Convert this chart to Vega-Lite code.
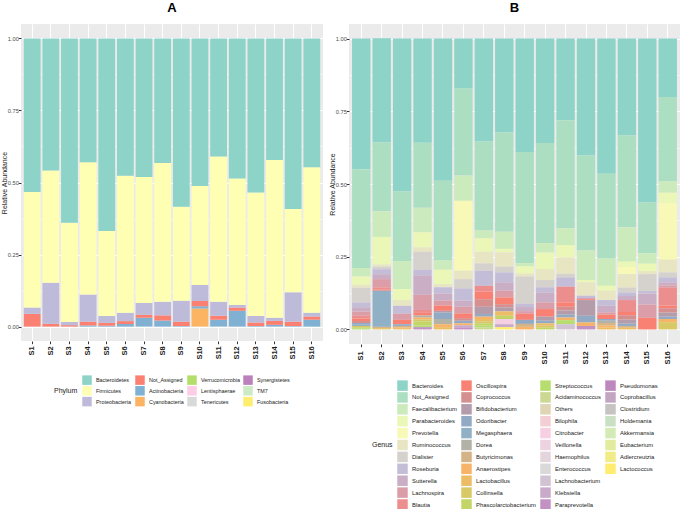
{
"$schema": "https://vega.github.io/schema/vega-lite/v6.json",
"padding": {"left": 0, "top": 2, "right": 0, "bottom": 0},
"spacing": 5,
"datasets": {
"pk": [{"p":"Bacteroidetes","k":0},{"p":"Firmicutes","k":1},{"p":"Proteobacteria","k":2},{"p":"Not_Assigned","k":3},{"p":"Actinobacteria","k":4},{"p":"Cyanobacteria","k":5},{"p":"Verrucomicrobia","k":6},{"p":"Lentisphaerae","k":7},{"p":"Tenericutes","k":8},{"p":"Synergistetes","k":9},{"p":"TM7","k":10},{"p":"Fusobacteria","k":11}],
"phy": [
{"s":"S1","p":"Not_Assigned","v":0.044},{"s":"S1","p":"Proteobacteria","v":0.022},{"s":"S1","p":"Firmicutes","v":0.401},{"s":"S1","p":"Bacteroidetes","v":0.533},
{"s":"S2","p":"Not_Assigned","v":0.010},{"s":"S2","p":"Proteobacteria","v":0.142},{"s":"S2","p":"Firmicutes","v":0.390},{"s":"S2","p":"Bacteroidetes","v":0.458},
{"s":"S3","p":"Not_Assigned","v":0.005},{"s":"S3","p":"Proteobacteria","v":0.011},{"s":"S3","p":"Firmicutes","v":0.344},{"s":"S3","p":"Bacteroidetes","v":0.640},
{"s":"S4","p":"Actinobacteria","v":0.004},{"s":"S4","p":"Not_Assigned","v":0.013},{"s":"S4","p":"Proteobacteria","v":0.094},{"s":"S4","p":"Firmicutes","v":0.459},{"s":"S4","p":"Bacteroidetes","v":0.430},
{"s":"S5","p":"Actinobacteria","v":0.003},{"s":"S5","p":"Not_Assigned","v":0.010},{"s":"S5","p":"Proteobacteria","v":0.024},{"s":"S5","p":"Firmicutes","v":0.295},{"s":"S5","p":"Bacteroidetes","v":0.668},
{"s":"S6","p":"Actinobacteria","v":0.009},{"s":"S6","p":"Not_Assigned","v":0.010},{"s":"S6","p":"Proteobacteria","v":0.029},{"s":"S6","p":"Firmicutes","v":0.475},{"s":"S6","p":"Bacteroidetes","v":0.477},
{"s":"S7","p":"Actinobacteria","v":0.031},{"s":"S7","p":"Not_Assigned","v":0.010},{"s":"S7","p":"Proteobacteria","v":0.041},{"s":"S7","p":"Firmicutes","v":0.437},{"s":"S7","p":"Bacteroidetes","v":0.481},
{"s":"S8","p":"Actinobacteria","v":0.021},{"s":"S8","p":"Not_Assigned","v":0.018},{"s":"S8","p":"Proteobacteria","v":0.047},{"s":"S8","p":"Firmicutes","v":0.482},{"s":"S8","p":"Bacteroidetes","v":0.432},
{"s":"S9","p":"Actinobacteria","v":0.002},{"s":"S9","p":"Not_Assigned","v":0.015},{"s":"S9","p":"Proteobacteria","v":0.073},{"s":"S9","p":"Firmicutes","v":0.326},{"s":"S9","p":"Bacteroidetes","v":0.584},
{"s":"S10","p":"Cyanobacteria","v":0.063},{"s":"S10","p":"Actinobacteria","v":0.008},{"s":"S10","p":"Not_Assigned","v":0.018},{"s":"S10","p":"Proteobacteria","v":0.055},{"s":"S10","p":"Firmicutes","v":0.344},{"s":"S10","p":"Bacteroidetes","v":0.512},
{"s":"S11","p":"Actinobacteria","v":0.024},{"s":"S11","p":"Not_Assigned","v":0.014},{"s":"S11","p":"Proteobacteria","v":0.048},{"s":"S11","p":"Firmicutes","v":0.504},{"s":"S11","p":"Bacteroidetes","v":0.410},
{"s":"S12","p":"Actinobacteria","v":0.055},{"s":"S12","p":"Not_Assigned","v":0.011},{"s":"S12","p":"Proteobacteria","v":0.009},{"s":"S12","p":"Firmicutes","v":0.439},{"s":"S12","p":"Bacteroidetes","v":0.486},
{"s":"S13","p":"Actinobacteria","v":0.002},{"s":"S13","p":"Not_Assigned","v":0.012},{"s":"S13","p":"Proteobacteria","v":0.023},{"s":"S13","p":"Firmicutes","v":0.428},{"s":"S13","p":"Bacteroidetes","v":0.535},
{"s":"S14","p":"Actinobacteria","v":0.006},{"s":"S14","p":"Not_Assigned","v":0.014},{"s":"S14","p":"Proteobacteria","v":0.011},{"s":"S14","p":"Firmicutes","v":0.547},{"s":"S14","p":"Bacteroidetes","v":0.422},
{"s":"S15","p":"Actinobacteria","v":0.002},{"s":"S15","p":"Not_Assigned","v":0.015},{"s":"S15","p":"Proteobacteria","v":0.102},{"s":"S15","p":"Firmicutes","v":0.289},{"s":"S15","p":"Bacteroidetes","v":0.592},
{"s":"S16","p":"Actinobacteria","v":0.024},{"s":"S16","p":"Not_Assigned","v":0.011},{"s":"S16","p":"Proteobacteria","v":0.013},{"s":"S16","p":"Firmicutes","v":0.505},{"s":"S16","p":"Bacteroidetes","v":0.447}
],
"gk": [{"g":"Bacteroides","k":0},{"g":"Not_Assigned","k":1},{"g":"Faecalibacterium","k":2},{"g":"Parabacteroides","k":3},{"g":"Prevotella","k":4},{"g":"Ruminococcus","k":5},{"g":"Dialister","k":6},{"g":"Roseburia","k":7},{"g":"Sutterella","k":8},{"g":"Lachnospira","k":9},{"g":"Blautia","k":10},{"g":"Oscillospira","k":11},{"g":"Coprococcus","k":12},{"g":"Bifidobacterium","k":13},{"g":"Odoribacter","k":14},{"g":"Megasphaera","k":15},{"g":"Dorea","k":16},{"g":"Butyricimonas","k":17},{"g":"Anaerostipes","k":18},{"g":"Lactobacillus","k":19},{"g":"Collinsella","k":20},{"g":"Phascolarctobacterium","k":21},{"g":"Streptococcus","k":22},{"g":"Acidaminococcus","k":23},{"g":"Others","k":24},{"g":"Bilophila","k":25},{"g":"Citrobacter","k":26},{"g":"Veillonella","k":27},{"g":"Haemophilus","k":28},{"g":"Enterococcus","k":29},{"g":"Lachnobacterium","k":30},{"g":"Klebsiella","k":31},{"g":"Paraprevotella","k":32},{"g":"Pseudomonas","k":33},{"g":"Coprobacillus","k":34},{"g":"Clostridium","k":35},{"g":"Holdemania","k":36},{"g":"Akkermansia","k":37},{"g":"Eubacterium","k":38},{"g":"Adlercreutzia","k":39},{"g":"Lactococcus","k":40}],
"gen": [
{"s":"S1","g":"Bacteroides","v":0.449},{"s":"S1","g":"Not_Assigned","v":0.340},{"s":"S1","g":"Faecalibacterium","v":0.029},{"s":"S1","g":"Parabacteroides","v":0.028},{"s":"S1","g":"Ruminococcus","v":0.011},{"s":"S1","g":"Dialister","v":0.050},{"s":"S1","g":"Roseburia","v":0.017},{"s":"S1","g":"Sutterella","v":0.014},{"s":"S1","g":"Lachnospira","v":0.015},{"s":"S1","g":"Blautia","v":0.009},{"s":"S1","g":"Oscillospira","v":0.009},{"s":"S1","g":"Coprococcus","v":0.007},{"s":"S1","g":"Odoribacter","v":0.006},{"s":"S1","g":"Megasphaera","v":0.004},{"s":"S1","g":"Collinsella","v":0.004},{"s":"S1","g":"Phascolarctobacterium","v":0.004},{"s":"S1","g":"Streptococcus","v":0.004},
{"s":"S2","g":"Bacteroides","v":0.358},{"s":"S2","g":"Not_Assigned","v":0.237},{"s":"S2","g":"Faecalibacterium","v":0.088},{"s":"S2","g":"Parabacteroides","v":0.095},{"s":"S2","g":"Ruminococcus","v":0.007},{"s":"S2","g":"Dialister","v":0.009},{"s":"S2","g":"Roseburia","v":0.017},{"s":"S2","g":"Sutterella","v":0.017},{"s":"S2","g":"Lachnospira","v":0.028},{"s":"S2","g":"Blautia","v":0.008},{"s":"S2","g":"Oscillospira","v":0.004},{"s":"S2","g":"Megasphaera","v":0.124},{"s":"S2","g":"Butyricimonas","v":0.004},{"s":"S2","g":"Lactobacillus","v":0.003},{"s":"S2","g":"Collinsella","v":0.002},
{"s":"S3","g":"Bacteroides","v":0.526},{"s":"S3","g":"Not_Assigned","v":0.239},{"s":"S3","g":"Faecalibacterium","v":0.096},{"s":"S3","g":"Parabacteroides","v":0.038},{"s":"S3","g":"Ruminococcus","v":0.020},{"s":"S3","g":"Roseburia","v":0.027},{"s":"S3","g":"Lachnospira","v":0.021},{"s":"S3","g":"Oscillospira","v":0.015},{"s":"S3","g":"Odoribacter","v":0.006},{"s":"S3","g":"Butyricimonas","v":0.005},{"s":"S3","g":"Anaerostipes","v":0.005},{"s":"S3","g":"Collinsella","v":0.002},
{"s":"S4","g":"Bacteroides","v":0.358},{"s":"S4","g":"Not_Assigned","v":0.224},{"s":"S4","g":"Faecalibacterium","v":0.084},{"s":"S4","g":"Parabacteroides","v":0.052},{"s":"S4","g":"Ruminococcus","v":0.015},{"s":"S4","g":"Dialister","v":0.062},{"s":"S4","g":"Roseburia","v":0.019},{"s":"S4","g":"Sutterella","v":0.067},{"s":"S4","g":"Lachnospira","v":0.052},{"s":"S4","g":"Blautia","v":0.010},{"s":"S4","g":"Oscillospira","v":0.009},{"s":"S4","g":"Dorea","v":0.007},{"s":"S4","g":"Anaerostipes","v":0.007},{"s":"S4","g":"Collinsella","v":0.006},{"s":"S4","g":"Phascolarctobacterium","v":0.014},{"s":"S4","g":"Streptococcus","v":0.006},{"s":"S4","g":"Paraprevotella","v":0.008},
{"s":"S5","g":"Bacteroides","v":0.489},{"s":"S5","g":"Not_Assigned","v":0.274},{"s":"S5","g":"Faecalibacterium","v":0.032},{"s":"S5","g":"Parabacteroides","v":0.049},{"s":"S5","g":"Ruminococcus","v":0.011},{"s":"S5","g":"Roseburia","v":0.021},{"s":"S5","g":"Sutterella","v":0.025},{"s":"S5","g":"Lachnospira","v":0.017},{"s":"S5","g":"Oscillospira","v":0.018},{"s":"S5","g":"Bifidobacterium","v":0.006},{"s":"S5","g":"Odoribacter","v":0.022},{"s":"S5","g":"Dorea","v":0.018},{"s":"S5","g":"Anaerostipes","v":0.010},{"s":"S5","g":"Lactobacillus","v":0.008},
{"s":"S6","g":"Bacteroides","v":0.172},{"s":"S6","g":"Not_Assigned","v":0.299},{"s":"S6","g":"Faecalibacterium","v":0.087},{"s":"S6","g":"Prevotella","v":0.240},{"s":"S6","g":"Ruminococcus","v":0.029},{"s":"S6","g":"Dialister","v":0.032},{"s":"S6","g":"Roseburia","v":0.042},{"s":"S6","g":"Sutterella","v":0.021},{"s":"S6","g":"Lachnospira","v":0.023},{"s":"S6","g":"Oscillospira","v":0.016},{"s":"S6","g":"Coprococcus","v":0.009},{"s":"S6","g":"Odoribacter","v":0.009},{"s":"S6","g":"Anaerostipes","v":0.007},{"s":"S6","g":"Klebsiella","v":0.007},{"s":"S6","g":"Paraprevotella","v":0.007},
{"s":"S7","g":"Bacteroides","v":0.354},{"s":"S7","g":"Not_Assigned","v":0.306},{"s":"S7","g":"Faecalibacterium","v":0.027},{"s":"S7","g":"Parabacteroides","v":0.046},{"s":"S7","g":"Ruminococcus","v":0.040},{"s":"S7","g":"Dialister","v":0.025},{"s":"S7","g":"Roseburia","v":0.052},{"s":"S7","g":"Blautia","v":0.020},{"s":"S7","g":"Oscillospira","v":0.026},{"s":"S7","g":"Coprococcus","v":0.026},{"s":"S7","g":"Bifidobacterium","v":0.025},{"s":"S7","g":"Odoribacter","v":0.009},{"s":"S7","g":"Anaerostipes","v":0.008},{"s":"S7","g":"Lactobacillus","v":0.008},{"s":"S7","g":"Collinsella","v":0.007},{"s":"S7","g":"Phascolarctobacterium","v":0.008},{"s":"S7","g":"Streptococcus","v":0.006},{"s":"S7","g":"Acidaminococcus","v":0.007},
{"s":"S8","g":"Bacteroides","v":0.323},{"s":"S8","g":"Not_Assigned","v":0.341},{"s":"S8","g":"Faecalibacterium","v":0.059},{"s":"S8","g":"Parabacteroides","v":0.012},{"s":"S8","g":"Ruminococcus","v":0.049},{"s":"S8","g":"Dialister","v":0.020},{"s":"S8","g":"Roseburia","v":0.034},{"s":"S8","g":"Sutterella","v":0.029},{"s":"S8","g":"Lachnospira","v":0.023},{"s":"S8","g":"Oscillospira","v":0.023},{"s":"S8","g":"Coprococcus","v":0.011},{"s":"S8","g":"Bifidobacterium","v":0.014},{"s":"S8","g":"Lactobacillus","v":0.015},{"s":"S8","g":"Phascolarctobacterium","v":0.011},{"s":"S8","g":"Citrobacter","v":0.018},{"s":"S8","g":"Klebsiella","v":0.010},{"s":"S8","g":"Lactococcus","v":0.008},
{"s":"S9","g":"Bacteroides","v":0.390},{"s":"S9","g":"Not_Assigned","v":0.382},{"s":"S9","g":"Faecalibacterium","v":0.011},{"s":"S9","g":"Parabacteroides","v":0.025},{"s":"S9","g":"Ruminococcus","v":0.010},{"s":"S9","g":"Dialister","v":0.094},{"s":"S9","g":"Roseburia","v":0.011},{"s":"S9","g":"Sutterella","v":0.014},{"s":"S9","g":"Lachnospira","v":0.009},{"s":"S9","g":"Oscillospira","v":0.021},{"s":"S9","g":"Odoribacter","v":0.014},{"s":"S9","g":"Butyricimonas","v":0.010},{"s":"S9","g":"Anaerostipes","v":0.009},
{"s":"S10","g":"Bacteroides","v":0.359},{"s":"S10","g":"Not_Assigned","v":0.344},{"s":"S10","g":"Faecalibacterium","v":0.033},{"s":"S10","g":"Parabacteroides","v":0.057},{"s":"S10","g":"Ruminococcus","v":0.037},{"s":"S10","g":"Dialister","v":0.025},{"s":"S10","g":"Roseburia","v":0.018},{"s":"S10","g":"Sutterella","v":0.034},{"s":"S10","g":"Lachnospira","v":0.023},{"s":"S10","g":"Oscillospira","v":0.026},{"s":"S10","g":"Bifidobacterium","v":0.014},{"s":"S10","g":"Odoribacter","v":0.009},{"s":"S10","g":"Lactobacillus","v":0.008},{"s":"S10","g":"Collinsella","v":0.007},{"s":"S10","g":"Phascolarctobacterium","v":0.006},
{"s":"S11","g":"Bacteroides","v":0.281},{"s":"S11","g":"Not_Assigned","v":0.371},{"s":"S11","g":"Faecalibacterium","v":0.058},{"s":"S11","g":"Parabacteroides","v":0.042},{"s":"S11","g":"Ruminococcus","v":0.057},{"s":"S11","g":"Dialister","v":0.012},{"s":"S11","g":"Roseburia","v":0.032},{"s":"S11","g":"Blautia","v":0.054},{"s":"S11","g":"Oscillospira","v":0.015},{"s":"S11","g":"Coprococcus","v":0.013},{"s":"S11","g":"Bifidobacterium","v":0.014},{"s":"S11","g":"Odoribacter","v":0.010},{"s":"S11","g":"Anaerostipes","v":0.009},{"s":"S11","g":"Streptococcus","v":0.014},{"s":"S11","g":"Lachnobacterium","v":0.018},
{"s":"S12","g":"Bacteroides","v":0.402},{"s":"S12","g":"Not_Assigned","v":0.327},{"s":"S12","g":"Faecalibacterium","v":0.101},{"s":"S12","g":"Parabacteroides","v":0.008},{"s":"S12","g":"Ruminococcus","v":0.046},{"s":"S12","g":"Roseburia","v":0.008},{"s":"S12","g":"Lachnospira","v":0.004},{"s":"S12","g":"Oscillospira","v":0.003},{"s":"S12","g":"Bifidobacterium","v":0.054},{"s":"S12","g":"Odoribacter","v":0.023},{"s":"S12","g":"Anaerostipes","v":0.012},{"s":"S12","g":"Paraprevotella","v":0.012},
{"s":"S13","g":"Bacteroides","v":0.465},{"s":"S13","g":"Not_Assigned","v":0.291},{"s":"S13","g":"Faecalibacterium","v":0.094},{"s":"S13","g":"Parabacteroides","v":0.017},{"s":"S13","g":"Ruminococcus","v":0.032},{"s":"S13","g":"Roseburia","v":0.019},{"s":"S13","g":"Sutterella","v":0.023},{"s":"S13","g":"Lachnospira","v":0.008},{"s":"S13","g":"Oscillospira","v":0.015},{"s":"S13","g":"Odoribacter","v":0.006},{"s":"S13","g":"Dorea","v":0.008},{"s":"S13","g":"Butyricimonas","v":0.008},{"s":"S13","g":"Anaerostipes","v":0.007},{"s":"S13","g":"Lactobacillus","v":0.007},
{"s":"S14","g":"Bacteroides","v":0.333},{"s":"S14","g":"Not_Assigned","v":0.316},{"s":"S14","g":"Faecalibacterium","v":0.118},{"s":"S14","g":"Parabacteroides","v":0.018},{"s":"S14","g":"Prevotella","v":0.025},{"s":"S14","g":"Ruminococcus","v":0.046},{"s":"S14","g":"Dialister","v":0.017},{"s":"S14","g":"Roseburia","v":0.012},{"s":"S14","g":"Sutterella","v":0.014},{"s":"S14","g":"Blautia","v":0.041},{"s":"S14","g":"Oscillospira","v":0.011},{"s":"S14","g":"Coprococcus","v":0.015},{"s":"S14","g":"Bifidobacterium","v":0.014},{"s":"S14","g":"Odoribacter","v":0.008},{"s":"S14","g":"Butyricimonas","v":0.006},{"s":"S14","g":"Lactobacillus","v":0.006},
{"s":"S15","g":"Bacteroides","v":0.564},{"s":"S15","g":"Not_Assigned","v":0.174},{"s":"S15","g":"Faecalibacterium","v":0.036},{"s":"S15","g":"Parabacteroides","v":0.025},{"s":"S15","g":"Ruminococcus","v":0.011},{"s":"S15","g":"Dialister","v":0.058},{"s":"S15","g":"Roseburia","v":0.009},{"s":"S15","g":"Sutterella","v":0.037},{"s":"S15","g":"Lachnospira","v":0.046},{"s":"S15","g":"Oscillospira","v":0.040},
{"s":"S16","g":"Bacteroides","v":0.201},{"s":"S16","g":"Not_Assigned","v":0.290},{"s":"S16","g":"Faecalibacterium","v":0.039},{"s":"S16","g":"Parabacteroides","v":0.036},{"s":"S16","g":"Prevotella","v":0.194},{"s":"S16","g":"Ruminococcus","v":0.044},{"s":"S16","g":"Dialister","v":0.017},{"s":"S16","g":"Roseburia","v":0.017},{"s":"S16","g":"Sutterella","v":0.011},{"s":"S16","g":"Lachnospira","v":0.008},{"s":"S16","g":"Blautia","v":0.061},{"s":"S16","g":"Oscillospira","v":0.009},{"s":"S16","g":"Coprococcus","v":0.015},{"s":"S16","g":"Bifidobacterium","v":0.014},{"s":"S16","g":"Odoribacter","v":0.008},{"s":"S16","g":"Anaerostipes","v":0.011},{"s":"S16","g":"Collinsella","v":0.025}
]
},
"hconcat": [
{
"title": {"text": "A"},
"width": 302, "height": 317,
"data": {"name": "phy"},
"transform": [{"lookup": "p", "from": {"data": {"name": "pk"}, "key": "p", "fields": ["k"]}}],
"mark": {"type": "bar"},
"encoding": {
"x": {"field": "s", "type": "nominal", "sort": ["S1","S2","S3","S4","S5","S6","S7","S8","S9","S10","S11","S12","S13","S14","S15","S16"], "scale": {"paddingInner": 0.1, "paddingOuter": 0.15}, "axis": {"title": null}},
"y": {"field": "v", "type": "quantitative", "stack": "zero", "scale": {"domain": [-0.05, 1.05], "nice": false, "zero": false},
 "axis": {"title": "Relative Abundance", "values": [0,0.125,0.25,0.375,0.5,0.625,0.75,0.875,1], "labelExpr": "(datum.value*8)%2==1 ? '' : format(datum.value,'.2f')", "gridWidth": {"condition": {"test": "(datum.value*8)%2==1", "value": 0.5}, "value": 1}, "tickOpacity": {"condition": {"test": "(datum.value*8)%2==1", "value": 0}, "value": 1}}},
"color": {"field": "p", "type": "nominal",
 "scale": {"domain": ["Bacteroidetes","Firmicutes","Proteobacteria","Not_Assigned","Actinobacteria","Cyanobacteria","Verrucomicrobia","Lentisphaerae","Tenericutes","Synergistetes","TM7","Fusobacteria"],
  "range": ["#8DD3C7","#FFFFB3","#BEBADA","#FB8072","#80B1D3","#FDB462","#B3DE69","#FCCDE5","#D9D9D9","#BC80BD","#CCEBC5","#FFED6F"]},
 "legend": {"title": "Phylum", "values": ["Bacteroidetes","Not_Assigned","Verrucomicrobia","Synergistetes","Firmicutes","Actinobacteria","Lentisphaerae","TM7","Proteobacteria","Cyanobacteria","Tenericutes","Fusobacteria"], "symbolSize": 90, "rowPadding": 0.8, "labelFontSize": 5.4, "columnPadding": 3, "offset": 15}},
"order": {"field": "k", "type": "quantitative", "sort": "descending"}
}
},
{
"title": {"text": "B"},
"width": 331, "height": 320,
"data": {"name": "gen"},
"transform": [{"lookup": "g", "from": {"data": {"name": "gk"}, "key": "g", "fields": ["k"]}}],
"mark": {"type": "bar"},
"encoding": {
"x": {"field": "s", "type": "nominal", "sort": ["S1","S2","S3","S4","S5","S6","S7","S8","S9","S10","S11","S12","S13","S14","S15","S16"], "scale": {"paddingInner": 0.1, "paddingOuter": 0.15}, "axis": {"title": null, "labelPadding": 4}},
"y": {"field": "v", "type": "quantitative", "stack": "zero", "scale": {"domain": [-0.05, 1.05], "nice": false, "zero": false},
 "axis": {"title": "Relative Abundance", "values": [0,0.125,0.25,0.375,0.5,0.625,0.75,0.875,1], "labelExpr": "(datum.value*8)%2==1 ? '' : format(datum.value,'.2f')", "gridWidth": {"condition": {"test": "(datum.value*8)%2==1", "value": 0.5}, "value": 1}, "tickOpacity": {"condition": {"test": "(datum.value*8)%2==1", "value": 0}, "value": 1}}},
"color": {"field": "g", "type": "nominal",
 "scale": {"domain": ["Bacteroides","Not_Assigned","Faecalibacterium","Parabacteroides","Prevotella","Ruminococcus","Dialister","Roseburia","Sutterella","Lachnospira","Blautia","Oscillospira","Coprococcus","Bifidobacterium","Odoribacter","Megasphaera","Dorea","Butyricimonas","Anaerostipes","Lactobacillus","Collinsella","Phascolarctobacterium","Streptococcus","Acidaminococcus","Others","Bilophila","Citrobacter","Veillonella","Haemophilus","Enterococcus","Lachnobacterium","Klebsiella","Paraprevotella","Pseudomonas","Coprobacillus","Clostridium","Holdemania","Akkermansia","Eubacterium","Adlercreutzia","Lactococcus"," ","  ","   "],
  "range": ["#8DD3C7","#ACDFC2","#CCEBBC","#EBF7B6","#F8F8B7","#E7E5C2","#D5D1CC","#C3BDD7","#CAAEC5","#DB9EA9","#EC8E8E","#F88174","#D68F8F","#B49CAA","#92AAC4","#90B1C5","#B2B2A6","#D4B387","#F7B468","#ECBD64","#D8C966","#C4D567","#B7DD6F","#CBD891","#DFD4B3","#F3CFD5","#F7CFE3","#EDD2E0","#E4D5DD","#DAD9D9","#D2C3D2","#CAAACA","#C292C3","#BD88BE","#C2A5C0","#C6C3C2","#CAE0C4","#D5EBB6","#E3EC9E","#F1EC87","#FFED6F","rgba(0,0,0,0)","rgba(0,0,0,0)","rgba(0,0,0,0)"]},
 "legend": {"title": "Genus", "values": ["Bacteroides","Oscillospira","Streptococcus","Pseudomonas","Not_Assigned","Coprococcus","Acidaminococcus","Coprobacillus","Faecalibacterium","Bifidobacterium","Others","Clostridium","Parabacteroides","Odoribacter","Bilophila","Holdemania","Prevotella","Megasphaera","Citrobacter","Akkermansia","Ruminococcus","Dorea","Veillonella","Eubacterium","Dialister","Butyricimonas","Haemophilus","Adlercreutzia","Roseburia","Anaerostipes","Enterococcus","Lactococcus","Sutterella","Lactobacillus","Lachnobacterium"," ","Lachnospira","Collinsella","Klebsiella","  ","Blautia","Phascolarctobacterium","Paraprevotella","   "], "symbolSize": 110, "rowPadding": 0.9, "labelFontSize": 5.9, "columnPadding": 4, "offset": 15}},
"order": {"field": "k", "type": "quantitative", "sort": "descending"}
}
}
],
"resolve": {"scale": {"color": "independent", "x": "independent", "y": "independent"}},
"config": {
"font": "Liberation Sans",
"view": {"fill": "#EBEBEB", "stroke": null},
"title": {"fontSize": 13, "fontWeight": "bold", "color": "#000000", "anchor": "middle", "offset": 9},
"axis": {"domain": false, "grid": true, "gridColor": "#FFFFFF", "tickColor": "#333333", "tickSize": 2.7, "labelColor": "#4D4D4D", "titleColor": "#222222", "titleFontWeight": "normal"},
"axisX": {"labelAngle": 270, "labelFontWeight": "bold", "labelFontSize": 7.5, "labelColor": "#1A1A1A", "bandPosition": 0.5, "labelPadding": 2, "gridWidth": 1},
"axisY": {"labelFontSize": 5.7, "titleFontSize": 7, "labelPadding": 0, "titlePadding": 0},
"legend": {"orient": "bottom", "direction": "horizontal", "columns": 4, "symbolLimit": 60, "symbolType": "square", "symbolStrokeWidth": 0, "labelColor": "#222222", "titleFontSize": 7, "titleFontWeight": "normal", "titleColor": "#222222", "titleOrient": "left", "titleAnchor": "middle", "titleBaseline": "middle", "labelOffset": 4, "titlePadding": 4, "layout": {"bottom": {"anchor": "middle"}}}
}
}
